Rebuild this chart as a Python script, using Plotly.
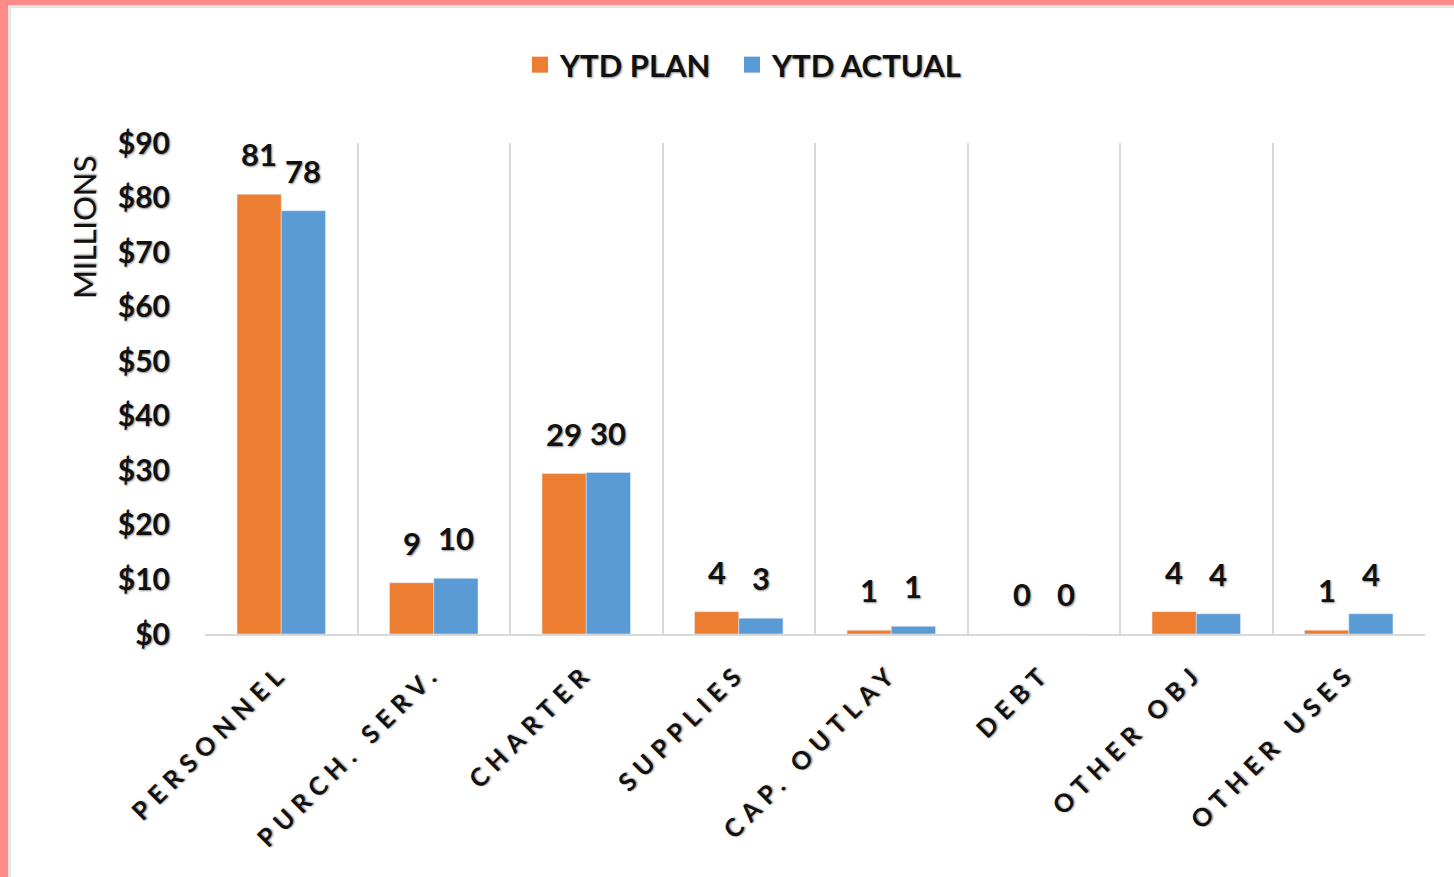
import plotly.graph_objects as go

categories = ["PERSONNEL", "PURCH. SERV.", "CHARTER", "SUPPLIES", "CAP. OUTLAY", "DEBT", "OTHER OBJ", "OTHER USES"]
ytd_plan = [80.6, 9.4, 29.4, 4.1, 0.7, 0.0, 4.1, 0.7]
ytd_actual = [77.6, 10.2, 29.6, 2.9, 1.4, 0.0, 3.7, 3.7]
y_ticks = [0, 10, 20, 30, 40, 50, 60, 70, 80, 90]

ORANGE = "#ED7D31"
BLUE = "#5B9BD5"
FONT = "Lato"
SHADOW = "1px 1px 2px rgba(0,0,0,0.45)"

W, H = 1454, 877
ML, MR, MT, MB = 205, 29, 143, 243
PW = W - ML - MR
PH = H - MT - MB

fig = go.Figure()
fig.add_trace(go.Bar(x=categories, y=ytd_plan, name="YTD PLAN", marker_color=ORANGE,
                     showlegend=False))
fig.add_trace(go.Bar(x=categories, y=ytd_actual, name="YTD ACTUAL", marker_color=BLUE,
                     showlegend=False))
# legend entries with larger square swatches
fig.add_trace(go.Scatter(x=[None], y=[None], mode="markers", name="YTD PLAN", legend="legend",
                         marker=dict(symbol="square", size=22, color=ORANGE)))
fig.add_trace(go.Scatter(x=[None], y=[None], mode="markers", name="YTD ACTUAL", legend="legend2",
                         marker=dict(symbol="square", size=22, color=BLUE)))


def px_x(p):
    return (p - ML) / PW


def px_y(p):
    return 1 - (p - MT) / PH


annotations = []
for series, shift in ((ytd_plan, -22), (ytd_actual, 22)):
    for c, v in zip(categories, series):
        annotations.append(dict(
            x=c, y=v, xref="x", yref="y", text=f"{v:.0f}", showarrow=False,
            xshift=shift, yshift=19, yanchor="bottom",
            font=dict(family=FONT, size=31, color="#111111", weight="bold", shadow=SHADOW)))

annotations.append(dict(
    text="MILLIONS", xref="paper", yref="paper", x=px_x(84), y=px_y(228),
    xanchor="center", yanchor="middle", textangle=-90, showarrow=False,
    font=dict(family=FONT, size=31, color="#111111", shadow=SHADOW)))

# pink frame at top and left edge of the picture
shapes = [
    dict(type="rect", xref="paper", yref="paper", x0=px_x(0), x1=px_x(W), y0=px_y(0), y1=px_y(8),
         fillcolor="#E4E4E4", line_width=0, layer="below"),
    dict(type="rect", xref="paper", yref="paper", x0=px_x(0), x1=px_x(11), y0=px_y(0), y1=px_y(H),
         fillcolor="#E4E4E4", line_width=0, layer="below"),
    dict(type="rect", xref="paper", yref="paper", x0=px_x(0), x1=px_x(W), y0=px_y(0), y1=px_y(5),
         fillcolor="#FF8A8A", line_width=0, layer="below"),
    dict(type="rect", xref="paper", yref="paper", x0=px_x(0), x1=px_x(8), y0=px_y(0), y1=px_y(H),
         fillcolor="#FF8A8A", line_width=0, layer="below"),
]

legend_style = dict(orientation="h", xanchor="left", y=px_y(65), yanchor="middle",
                    font=dict(family=FONT, size=31, color="#111111", weight="bold", shadow=SHADOW),
                    itemsizing="trace", itemwidth=30, bgcolor="rgba(0,0,0,0)")

fig.update_layout(
    width=W, height=H,
    margin=dict(l=ML, r=MR, t=MT, b=MB, pad=0),
    paper_bgcolor="white", plot_bgcolor="white",
    barmode="group", bargap=0.42, bargroupgap=0,
    font=dict(family=FONT, color="#111111"),
    legend=dict(x=px_x(520), **legend_style),
    legend2=dict(x=px_x(732), **legend_style),
    xaxis=dict(type="category", tickson="boundaries", showgrid=True, gridcolor="#D9D9D9", gridwidth=1.5,
               showline=True, linecolor="#D9D9D9", linewidth=2, ticks="", tickangle=-45,
               ticklabelstandoff=12,
               tickfont=dict(family=FONT, size=25, color="#111111", weight="bold", shadow=SHADOW),
               range=[-0.5, 7.5]),
    yaxis=dict(range=[0, 90], tickvals=y_ticks, ticktext=[f"${t}" for t in y_ticks],
               showgrid=False, zeroline=False, showline=False, ticks="",
               ticklabelstandoff=34,
               tickfont=dict(family=FONT, size=30, color="#111111", weight="bold", shadow=SHADOW)),
    annotations=annotations,
    shapes=shapes,
)

post = (
    "document.body.style.margin='0';"
    "document.querySelectorAll('.xtick text').forEach(t => t.style.letterSpacing='7px');"
)
fig.write_html("out.html", post_script=post, config={"displayModeBar": False})
